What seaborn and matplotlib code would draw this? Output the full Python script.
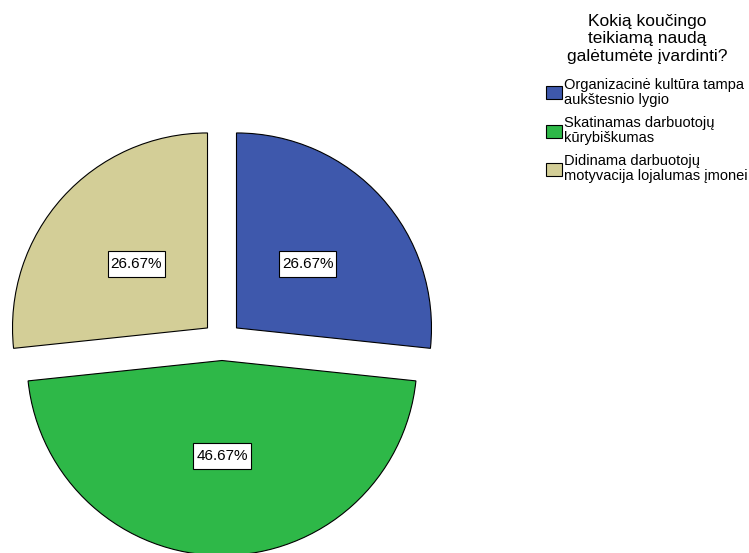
import matplotlib
matplotlib.use("Agg")
import matplotlib.pyplot as plt
from matplotlib.path import Path
import seaborn as sns

# data
categories = ["Organizacinė kultūra tampa\naukštesnio lygio",
              "Skatinamas darbuotojų\nkūrybiškumas",
              "Didinama darbuotojų\nmotyvacija lojalumas įmonei"]
shares = [26.67, 46.67, 26.67]
legend_title = "Kokią koučingo\nteikiamą naudą\ngalėtumėte įvardinti?"

sns.set_style("white")
plt.rcParams['font.family'] = ['Liberation Sans', 'DejaVu Sans']
plt.rcParams['text.color'] = 'black'
colors = sns.color_palette(["#3E58AC", "#2EB848", "#D3CE97"])


def label_box(x0, y0, width, height, mutation_size):
    # square box, more padding top/bottom than left/right
    px, py = 0.2 * mutation_size, 0.4 * mutation_size
    x0, y0 = x0 - px, y0 - py
    x1, y1 = x0 + width + 2 * px, y0 + height + 2 * py
    return Path([(x0, y0), (x1, y0), (x1, y1), (x0, y1), (x0, y0)], closed=True)


W, H = 749, 553
fig = plt.figure(figsize=(W / 100, H / 100), dpi=100)
ax = fig.add_axes([0, 0, 1, 1])

wedges, texts, autotexts = ax.pie(
    shares, colors=colors, startangle=90, counterclock=False,
    explode=[0.1, 0.1, 0.1], autopct="%.2f%%", pctdistance=0.49,
    wedgeprops=dict(edgecolor="black", linewidth=0.8))
for t in autotexts:
    t.set_fontsize(11)
    t.set_bbox(dict(boxstyle=label_box, fc="white", ec="black", lw=0.8))

# pie centre at (222, 341) px from top-left, radius 195 px
cx, cy, r = 222, 341, 195
ax.set_aspect("auto")
ax.set_xlim(-cx / r, (W - cx) / r)
ax.set_ylim(-(H - cy) / r, cy / r)
ax.axis("off")

fig.text(647 / W, 1 - 14 / H, legend_title, ha="center", va="top",
         fontsize=12.5, linespacing=1.2)

leg = fig.legend(wedges, categories,
                 loc="upper left", bbox_to_anchor=(543 / W, 1 - 75 / H),
                 frameon=False, fontsize=10.5,
                 handlelength=1.1, handleheight=1.0, handletextpad=0.12,
                 labelspacing=0.62, borderpad=0.2, borderaxespad=0)
for t in leg.get_texts():
    t.set_linespacing(1.1)

fig.savefig("out.png", dpi=100)
